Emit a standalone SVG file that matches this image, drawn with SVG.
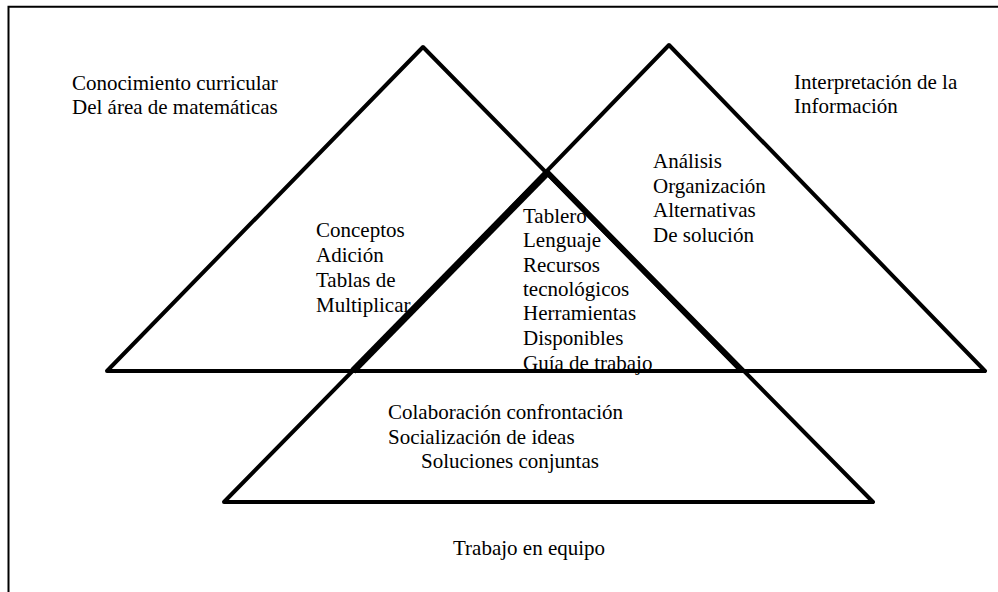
<svg xmlns="http://www.w3.org/2000/svg" width="998" height="592" viewBox="0 0 998 592">
<style>
.t{font-family:"Liberation Serif","Times New Roman",serif;font-size:21px;fill:#000}
.tri{fill:none;stroke:#000;stroke-width:4;stroke-linejoin:round}
</style>
<rect width="998" height="592" fill="#fff"/>
<path d="M8.5,600 V6.7 H1000" fill="none" stroke="#000" stroke-width="2"/>
<g id="labels">
<g id="label-conocimiento"><text class="t" x="72" y="90">Conocimiento curricular</text><text class="t" x="72" y="114">Del área de matemáticas</text></g>
<g id="label-interpretacion"><text class="t" x="794" y="89">Interpretación de la</text><text class="t" x="794" y="113">Información</text></g>
<g id="label-analisis"><text class="t" x="653" y="168">Análisis</text><text class="t" x="653" y="193">Organización</text><text class="t" x="653" y="217">Alternativas</text><text class="t" x="653" y="242">De solución</text></g>
<g id="label-conceptos"><text class="t" x="316" y="237">Conceptos</text><text class="t" x="316" y="262">Adición</text><text class="t" x="316" y="287">Tablas de</text><text class="t" x="316" y="312">Multiplicar</text></g>
<g id="label-tablero"><text class="t" x="523" y="223">Tablero</text><text class="t" x="523" y="247">Lenguaje</text><text class="t" x="523" y="272">Recursos</text><text class="t" x="523" y="296">tecnológicos</text><text class="t" x="523" y="320">Herramientas</text><text class="t" x="523" y="345">Disponibles</text><text class="t" x="523" y="370">Guía de trabajo</text></g>
<g id="label-colaboracion"><text class="t" x="388" y="419">Colaboración confrontación</text><text class="t" x="388" y="444">Socialización de ideas</text><text class="t" x="421" y="468">Soluciones conjuntas</text></g>
<g id="label-trabajo"><text class="t" x="453" y="555">Trabajo en equipo</text></g>
</g>
<g id="tri-conocimiento"><polygon class="tri" points="423,47 741,371 107,371"/></g>
<g id="tri-interpretacion"><polygon class="tri" points="669,45 985,371 353,371"/></g>
<g id="tri-trabajo"><polygon class="tri" points="548,172 873,502 224,502"/><path d="M547,173 L353,371" stroke="#000" stroke-width="7" fill="none"/><path d="M547,173 L742,371" stroke="#000" stroke-width="4.6" fill="none"/></g>
</svg>
